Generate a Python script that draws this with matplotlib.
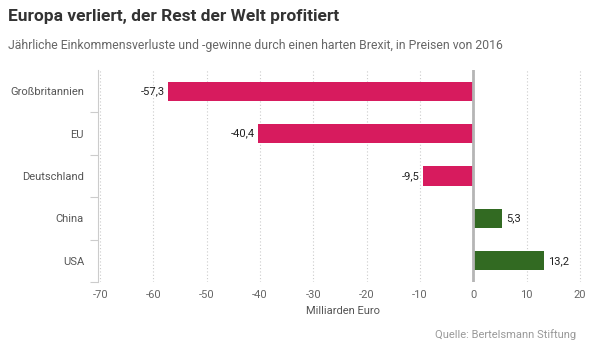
import matplotlib.pyplot as plt

plt.rcParams['font.family'] = ['Roboto', 'DejaVu Sans']

laender = ['Großbritannien', 'EU', 'Deutschland', 'China', 'USA']
werte = [-57.3, -40.4, -9.5, 5.3, 13.2]
xticks = [-70, -60, -50, -40, -30, -20, -10, 0, 10, 20]

pink = '#d71b5e'
gruen = '#326a22'

fig = plt.figure(figsize=(5.93, 3.49), dpi=100)
ax = fig.add_axes([98 / 593, 67 / 349, 490 / 593, 212 / 349])

ypos = list(range(len(laender)))
farben = [pink if w < 0 else gruen for w in werte]
ax.barh(ypos, werte, height=0.45, color=farben, zorder=3)

# Werte-Beschriftung an den Balken
for y, w in zip(ypos, werte):
    txt = f'{w:.1f}'.replace('.', ',')
    if w < 0:
        ax.text(w - 0.6, y, txt, ha='right', va='center', fontsize=8, color='#222222')
    else:
        ax.text(w + 0.8, y, txt, ha='left', va='center', fontsize=8, color='#222222')

ax.set_xlim(-70.4, 21.5)
ax.set_ylim(4.5, -0.5)
ax.set_xticks(xticks)
ax.set_xticklabels([str(t) for t in xticks], fontsize=8, color='#666666')
ax.set_yticks(ypos)
ax.set_yticklabels(laender, fontsize=8, color='#555555')
ax.tick_params(axis='y', length=0, pad=10)
ax.tick_params(axis='x', length=0, pad=6)
# Trennstriche zwischen Kategorien
ax.set_yticks([0.5, 1.5, 2.5, 3.5, 4.5], minor=True)
ax.tick_params(axis='y', which='minor', length=6, color='#cccccc', width=0.8)

ax.grid(axis='x', linestyle=(0, (1, 2)), color='#cccccc', linewidth=0.8, zorder=0)
ax.axvline(0, color='#b5b5b5', linewidth=2, zorder=4)

for s in ['top', 'right', 'bottom']:
    ax.spines[s].set_visible(False)
ax.spines['left'].set_color('#cccccc')
ax.spines['left'].set_linewidth(0.8)

ax.set_xlabel('Milliarden Euro', fontsize=8, color='#555555', labelpad=4)

fig.text(8 / 593, 1 - 16 / 349, 'Europa verliert, der Rest der Welt profitiert',
         fontsize=12.5, fontweight='bold', color='#333333', va='center')
fig.text(8 / 593, 1 - 45 / 349,
         'Jährliche Einkommensverluste und -gewinne durch einen harten Brexit, in Preisen von 2016',
         fontsize=8.8, color='#666666', va='center')
fig.text(576 / 593, 1 - 335 / 349, 'Quelle: Bertelsmann Stiftung',
         fontsize=8, color='#999999', ha='right', va='center')

fig.savefig('out.png', dpi=100)
